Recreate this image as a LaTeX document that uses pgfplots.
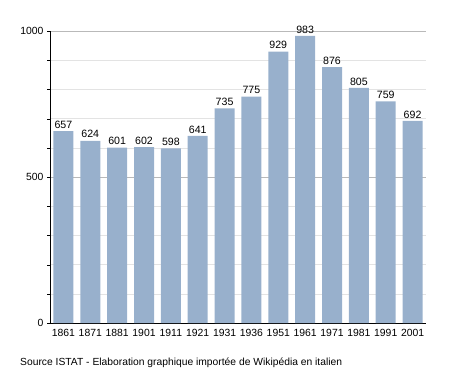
\documentclass[border=0pt]{standalone}
\usepackage{pgfplots}
\pgfplotsset{compat=1.18}
\usepackage{fontspec}
\setmainfont{Liberation Sans}
\definecolor{barblue}{RGB}{152,176,204}
\begin{document}
\begin{tikzpicture}[x=1bp,y=1bp]
\useasboundingbox (0,0) rectangle (455,373);
\begin{axis}[
  at={(50bp,50bp)}, anchor=south west,
  scale only axis, width=376bp, height=292bp,
  xmin=-0.5, xmax=13.5, ymin=0, ymax=1000,
  ybar, bar width=20bp,
  xtick=data,
  xticklabels={1861,1871,1881,1901,1911,1921,1931,1936,1951,1961,1971,1981,1991,2001},
  x tick style={draw=none},
  ytick={0,500,1000}, minor y tick num=4,
  /pgf/number format/1000 sep={},
  tick align=outside, major tick length=3bp, minor tick length=3bp,
  y tick style={black},
  ymajorgrids, yminorgrids,
  major grid style={gray!55, line width=0.6pt},
  minor grid style={gray!22, line width=0.6pt},
  axis x line*=bottom, axis y line*=left,
  axis line style={-, black, line width=0.8pt},
  tick label style={font=\fontsize{10.4bp}{12bp}\selectfont},
  /pgf/number format/assume math mode=true,
  nodes near coords,
  every node near coord/.append style={font=\fontsize{10.6bp}{12bp}\selectfont, inner sep=2.5pt},
  clip=false,
]
\addplot[fill=barblue, draw=none] coordinates {
(0,657) (1,624) (2,601) (3,602) (4,598) (5,641) (6,735) (7,775) (8,929) (9,983) (10,876) (11,805) (12,759) (13,692)};
\end{axis}
\node[anchor=base west, inner sep=0, font=\fontsize{10.3bp}{12bp}\selectfont] at (20,8) {Source ISTAT - Elaboration graphique importée de Wikipédia en italien};
\end{tikzpicture}
\end{document}
